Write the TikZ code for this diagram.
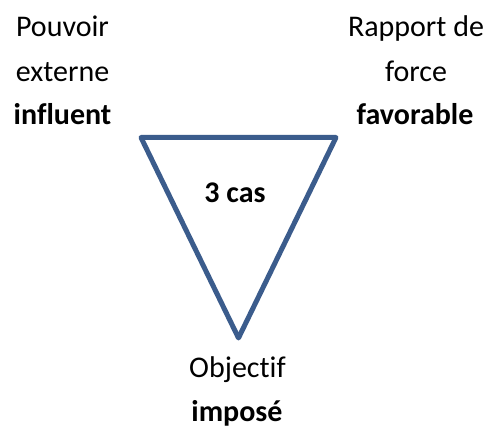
\documentclass[tikz,border=0pt]{standalone}
\usepackage{fontspec}
\setmainfont[Ligatures=NoCommon]{Carlito}
\definecolor{triblue}{HTML}{3B5C8C}
\begin{document}
\begin{tikzpicture}[x=1pt,y=1pt,
  lbl/.style={anchor=base,inner sep=0pt,font=\fontsize{30}{36}\selectfont},
  blbl/.style={lbl,font=\fontsize{30}{36}\selectfont\bfseries},
  tri/.style={draw=triblue,line width=5pt,line join=round,fill=white}]
\useasboundingbox[fill=white] (0,0) rectangle (491,428);
\coordinate (tl) at (141,290.5);
\coordinate (tr) at (336,290.5);
\coordinate (bt) at (238.5,90);
\draw[tri] (tl) -- (tr) -- (bt) -- cycle;
\node[lbl] (p1) at (62.5,391) {Pouvoir};
\node[lbl] (p2) at (62.5,346) {externe};
\node[blbl] (p3) at (62.5,303) {influent};
\node[lbl] (r1) at (416,391) {Rapport de};
\node[lbl] (r2) at (416,346) {force};
\node[blbl] (r3) at (415,303) {favorable};
\node[blbl] (c) at (235,225) {3 cas};
\node[lbl] (o1) at (237.5,50) {Objectif};
\node[blbl] (o2) at (237,6) {imposé};
\end{tikzpicture}
\end{document}
